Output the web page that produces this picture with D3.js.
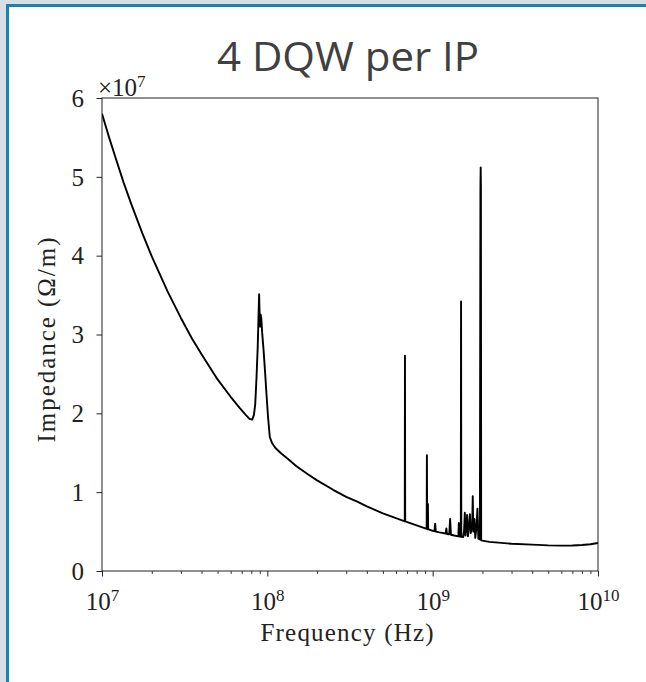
<!DOCTYPE html>
<html><head><meta charset="utf-8">
<script src="https://cdn.jsdelivr.net/npm/d3@7"></script>
<style>body{margin:0;background:#fff}</style>
</head><body>
<svg id="c" width="646" height="682"></svg>
<script>
// ---- data (impedance in units of 1e7 Ω/m) ----
const freqHz = [
 1.0e7,1.1e7,1.2e7,1.35e7,1.5e7,1.75e7,2.0e7,2.5e7,3.0e7,3.5e7,4.0e7,5.0e7,6.0e7,6.8e7,7.4e7,7.8e7,8.1e7,8.3e7,8.45e7,8.6e7,8.75e7,8.85e7,8.92e7,8.97e7,9.05e7,9.12e7,9.2e7,9.3e7,9.5e7,9.7e7,9.9e7,
 1.01e8,1.035e8,1.07e8,1.12e8,1.2e8,1.35e8,1.5e8,1.75e8,2.0e8,2.5e8,3.0e8,3.5e8,4.0e8,5.0e8,6.0e8,6.78e8,6.8e8,6.82e8,8.0e8,9.2e8,9.23e8,9.26e8,9.33e8,9.36e8,9.39e8,
 1.0e9,1.025e9,1.035e9,1.045e9,1.1e9,1.2e9,1.21e9,1.22e9,1.26e9,1.275e9,1.29e9,1.35e9,1.43e9,1.44e9,1.45e9,1.48e9,1.485e9,1.49e9,1.53e9,1.55e9,1.565e9,1.58e9,1.6e9,1.615e9,1.635e9,1.66e9,1.68e9,1.70e9,1.735e9,1.748e9,1.76e9,1.79e9,1.81e9,1.84e9,1.865e9,1.89e9,1.93e9,1.945e9,1.952e9,1.958e9,1.965e9,
 2.0e9,2.2e9,2.5e9,3.0e9,4.0e9,5.0e9,6.0e9,7.0e9,8.0e9,9.0e9,1.0e10
];
const impedanceE7 = [
 5.80,5.51,5.26,4.93,4.66,4.29,3.99,3.54,3.21,2.95,2.75,2.43,2.21,2.07,1.98,1.93,1.92,1.98,2.12,2.45,2.85,3.25,3.51,3.30,3.10,3.25,3.20,3.03,2.79,2.51,2.22,
 1.95,1.70,1.62,1.56,1.50,1.41,1.33,1.23,1.15,1.03,0.94,0.88,0.82,0.73,0.67,0.63,2.73,0.63,0.58,0.535,1.47,0.535,0.53,0.85,0.53,
 0.51,0.505,0.60,0.50,0.49,0.475,0.54,0.47,0.465,0.66,0.46,0.45,0.44,0.61,0.44,0.435,3.42,0.435,0.43,0.52,0.74,0.45,0.55,0.71,0.44,0.58,0.72,0.48,0.60,0.95,0.50,0.66,0.42,0.55,0.79,0.41,0.40,4.85,5.12,4.85,0.39,
 0.385,0.37,0.36,0.345,0.335,0.325,0.322,0.324,0.33,0.34,0.355
];
const xMajorTicks = [1e7, 1e8, 1e9, 1e10];
const xMajorExponents = [7, 8, 9, 10];
const yTicks = [0, 1, 2, 3, 4, 5, 6];
const offsetExponent = 7;
const titleText = "4 DQW per IP";
const xLabelText = "Frequency (Hz)";
const yLabelText = "Impedance (Ω/m)";

// ---- drawing ----
const svg = d3.select("#c");
svg.append("rect").attr("width",646).attr("height",682).attr("fill","#d7dfe6");
svg.append("rect").attr("x",6).attr("y",4).attr("width",640).attr("height",678).attr("fill","#fff");
svg.append("rect").attr("x",6).attr("y",4).attr("width",640).attr("height",3).attr("fill","#1f7fad");
svg.append("rect").attr("x",6).attr("y",4).attr("width",3).attr("height",678).attr("fill","#1f7fad");

const m = {l:102, r:598, t:98, b:571};
const x = d3.scaleLog().domain([1e7,1e10]).range([m.l,m.r]);
const y = d3.scaleLinear().domain([0,6]).range([m.b,m.t]);
const serif = "'Liberation Serif', 'DejaVu Serif', serif";
const txt = "#222";

// title
svg.append("text").attr("x",348).attr("y",71).attr("text-anchor","middle")
  .attr("font-family","'Open Sans', sans-serif").attr("font-size",41).attr("fill","#404040")
  .attr("textLength",262).attr("lengthAdjust","spacingAndGlyphs").text(titleText);

// clip
svg.append("clipPath").attr("id","clip").append("rect")
  .attr("x",m.l).attr("y",m.t-2).attr("width",m.r-m.l).attr("height",m.b-m.t+2);

// line
const pts = freqHz.map((f,i)=>[f, impedanceE7[i]]);
svg.append("path").datum(pts).attr("clip-path","url(#clip)")
  .attr("fill","none").attr("stroke","#000").attr("stroke-width",1.9)
  .attr("stroke-linejoin","round").attr("stroke-linecap","butt")
  .attr("d", d3.line().x(d=>x(d[0])).y(d=>y(d[1])));

// minor x ticks
const minorTicks = [];
xMajorTicks.slice(0,-1).forEach(d => { for (let k=2;k<10;k++) minorTicks.push(d*k); });
const gxMinor = svg.append("g").attr("transform",`translate(0,${m.b})`)
  .call(d3.axisBottom(x).tickValues(minorTicks).tickSize(3).tickFormat(""));
gxMinor.select(".domain").remove();
gxMinor.selectAll("line").attr("stroke","#222").attr("stroke-width",0.9);

// major x ticks
const gx = svg.append("g").attr("transform",`translate(0,${m.b})`)
  .call(d3.axisBottom(x).tickValues(xMajorTicks).tickSize(5.5).tickFormat(""));
gx.select(".domain").remove();
gx.selectAll("line").attr("stroke","#222").attr("stroke-width",1);
gx.selectAll(".tick").each(function(d,i){
  const t = d3.select(this).append("text").attr("x",0).attr("y",39)
    .attr("text-anchor","middle").attr("font-family",serif).attr("font-size",25).attr("fill",txt);
  t.append("tspan").text("10");
  t.append("tspan").attr("font-size",17).attr("dy",-9).text(xMajorExponents[i]);
});

// y ticks
const gy = svg.append("g").attr("transform",`translate(${m.l},0)`)
  .call(d3.axisLeft(y).tickValues(yTicks).tickSize(5.5).tickFormat(d3.format("d")));
gy.select(".domain").remove();
gy.selectAll("line").attr("stroke","#222").attr("stroke-width",1);
gy.selectAll("text").attr("font-family",serif).attr("font-size",25).attr("fill",txt)
  .attr("x",-18).attr("dy","0.33em");

// frame
svg.append("rect").attr("x",m.l).attr("y",m.t).attr("width",m.r-m.l).attr("height",m.b-m.t)
  .attr("fill","none").attr("stroke","#222").attr("stroke-width",1);

// offset text ×10^7
const off = svg.append("text").attr("x",98).attr("y",96).attr("font-family",serif)
  .attr("font-size",25).attr("fill",txt);
off.append("tspan").text("×10");
off.append("tspan").attr("font-size",17).attr("dy",-9).text(offsetExponent);

// axis labels
svg.append("text").attr("x",347).attr("y",641).attr("text-anchor","middle")
  .attr("font-family",serif).attr("font-size",25).attr("fill",txt)
  .attr("textLength",173).attr("lengthAdjust","spacing").text(xLabelText);
svg.append("text").attr("transform","translate(55,340) rotate(-90)").attr("text-anchor","middle")
  .attr("font-family",serif).attr("font-size",25).attr("fill",txt)
  .attr("textLength",205).attr("lengthAdjust","spacing").text(yLabelText);
</script>
</body></html>
